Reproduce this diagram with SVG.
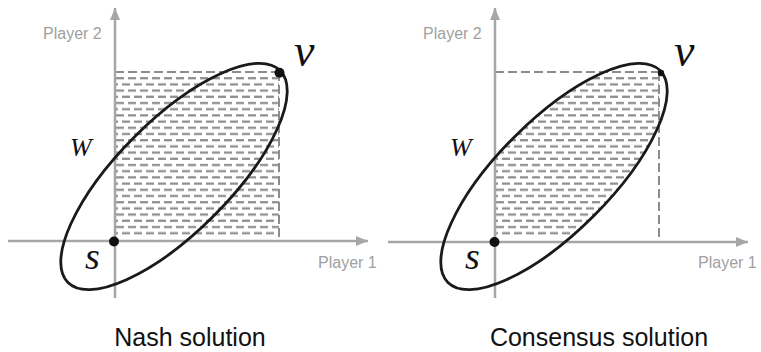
<svg xmlns="http://www.w3.org/2000/svg" width="761" height="352" viewBox="0 0 761 352">
<style>
.axis{stroke:#a6a6a6;stroke-width:2.5;fill:none}
.bord{stroke:#8c8c8c;stroke-width:2;stroke-dasharray:9 4;fill:none}
.ell{stroke:#1a1a1a;stroke-width:2.8;fill:none}
.dot{fill:#111}
.ax{font-family:"Liberation Sans",Arial,sans-serif;font-size:16px;fill:#a0a0a0}
.math{font-family:"Liberation Serif","Times New Roman",serif;font-style:italic;fill:#111}
.title{font-family:"Liberation Sans",Arial,sans-serif;font-size:25px;fill:#111;text-anchor:middle}
</style>
<defs>
<marker id="arr" markerWidth="12" markerHeight="10" refX="12" refY="5" orient="auto" markerUnits="userSpaceOnUse">
<path d="M0,0 L12,5 L0,10 Z" fill="#a6a6a6"/>
</marker>
<pattern id="hatch" patternUnits="userSpaceOnUse" x="115" y="75.1" width="12" height="12.4">
<rect x="1" y="2" width="8" height="2.2" fill="#8c8c8c"/>
<rect x="7" y="8.2" width="5" height="2.2" fill="#8c8c8c"/>
<rect x="0" y="8.2" width="3" height="2.2" fill="#8c8c8c"/>
</pattern>
<pattern id="hatch2" patternUnits="userSpaceOnUse" x="495" y="75.1" width="12" height="12.4">
<rect x="1" y="2" width="8" height="2.2" fill="#8c8c8c"/>
<rect x="7" y="8.2" width="5" height="2.2" fill="#8c8c8c"/>
<rect x="0" y="8.2" width="3" height="2.2" fill="#8c8c8c"/>
</pattern>
<clipPath id="rclip"><rect x="496" y="74" width="163" height="163"/></clipPath>
<clipPath id="eclip"><ellipse cx="554" cy="176.5" rx="150" ry="56" transform="rotate(-45 554 176.5)"/></clipPath>
</defs>

<g id="nash">
<rect x="116" y="75" width="163" height="162" fill="url(#hatch)"/>
<path class="bord" d="M115,72 H280"/>
<path class="bord" d="M279,72 V241"/>
<g id="nash-axes">
<path class="axis" d="M8,241 H368" marker-end="url(#arr)"/>
<path class="axis" d="M115,298 V8" marker-end="url(#arr)"/>
</g>
<ellipse class="ell" cx="174" cy="176.5" rx="150" ry="56" transform="rotate(-45 174 176.5)"/>
<circle class="dot" cx="114" cy="241.5" r="5"/>
<circle class="dot" cx="279.5" cy="72.7" r="5"/>
<text class="ax" x="43" y="39">Player 2</text>
<text class="ax" x="318" y="268">Player 1</text>
<text class="math" x="70" y="156" font-size="26">W</text>
<text class="math" x="85" y="269" font-size="38">s</text>
<text class="math" x="294" y="66" font-size="46">v</text>
<text class="title" x="190" y="346">Nash solution</text>
</g>

<g id="consensus">
<g clip-path="url(#rclip)"><rect x="496" y="75" width="163" height="162" fill="url(#hatch2)" clip-path="url(#eclip)"/></g>
<path class="bord" d="M495,72 H660"/>
<path class="bord" d="M659,72 V241"/>
<g id="consensus-axes">
<path class="axis" d="M388,242 H748" marker-end="url(#arr)"/>
<path class="axis" d="M495,298 V8" marker-end="url(#arr)"/>
</g>
<ellipse class="ell" cx="554" cy="176.5" rx="150" ry="56" transform="rotate(-45 554 176.5)"/>
<circle class="dot" cx="494.5" cy="242" r="5"/>
<circle class="dot" cx="661" cy="73" r="3.2"/>
<text class="ax" x="423" y="39">Player 2</text>
<text class="ax" x="698" y="268">Player 1</text>
<text class="math" x="450" y="156" font-size="26">W</text>
<text class="math" x="465" y="269" font-size="38">s</text>
<text class="math" x="674" y="66" font-size="46">v</text>
<text class="title" x="599" y="346">Consensus solution</text>
</g>
</svg>
